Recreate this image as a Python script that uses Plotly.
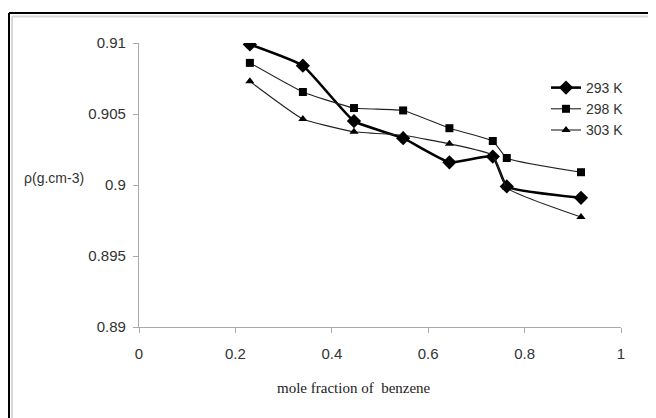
import plotly.graph_objects as go

# Data
mole_fraction = [0.230, 0.340, 0.446, 0.548, 0.644, 0.734, 0.763, 0.917]
rho_293 = [0.9099, 0.9084, 0.9045, 0.9033, 0.9016, 0.9020, 0.8999, 0.8991]
rho_298 = [0.9086, 0.90655, 0.90542, 0.90525, 0.9040, 0.9031, 0.9019, 0.9009]
rho_303 = [0.9073, 0.90465, 0.90375, 0.9035, 0.9029, 0.9021, 0.8998, 0.89775]
series_names = ["293 K", "298 K", "303 K"]
x_ticks = [0, 0.2, 0.4, 0.6, 0.8, 1]
x_tick_labels = ["0", "0.2", "0.4", "0.6", "0.8", "1"]
y_ticks = [0.89, 0.895, 0.9, 0.905, 0.91]
y_tick_labels = ["0.89", "0.895", "0.9", "0.905", "0.91"]

# page body has an 8px margin: figure origin sits at window (8, 8)
OFF = 8
W, H = 656, 418
ML, MT = 131, 35
PW, PH = 482, 284
MR, MB = W - ML - PW, H - MT - PH

def px(x):  # window pixel -> paper x
    return (x - OFF - ML) / PW

def py(y):  # window pixel -> paper y
    return (MT + PH - (y - OFF)) / PH

fig = go.Figure()
fig.add_trace(go.Scatter(
    x=mole_fraction, y=rho_293, name=series_names[0], mode="lines+markers",
    line=dict(color="#000000", width=2.6, shape="spline", smoothing=0.4),
    marker=dict(symbol="diamond", size=11, color="#000000")))
fig.add_trace(go.Scatter(
    x=mole_fraction, y=rho_298, name=series_names[1], mode="lines+markers",
    line=dict(color="#222222", width=1.1, shape="spline", smoothing=0.4),
    marker=dict(symbol="square", size=8, color="#000000")))
fig.add_trace(go.Scatter(
    x=mole_fraction, y=rho_303, name=series_names[2], mode="lines+markers",
    line=dict(color="#222222", width=1.1, shape="spline", smoothing=0.4),
    marker=dict(symbol="triangle-up", size=8, color="#000000")))

axis_font = dict(family="Liberation Sans, Arial, sans-serif", size=15, color="#333333")

fig.update_layout(
    width=W, height=H,
    margin=dict(l=ML, r=MR, t=MT, b=MB),
    paper_bgcolor="white", plot_bgcolor="white",
    showlegend=True,
    legend=dict(x=px(546), y=py(72), xanchor="left", yanchor="top",
                font=dict(family="Liberation Sans, Arial, sans-serif", size=14, color="#333333"),
                bgcolor="rgba(0,0,0,0)", tracegroupgap=0, itemwidth=30),
    xaxis=dict(range=[0, 1], tickvals=x_ticks, ticktext=x_tick_labels,
               showgrid=False, zeroline=False, showline=True, linecolor="#aaaaaa", linewidth=1.2,
               ticks="outside", ticklen=5, tickcolor="#aaaaaa", tickfont=axis_font,
               ticklabelstandoff=8),
    yaxis=dict(range=[0.89, 0.91], tickvals=y_ticks, ticktext=y_tick_labels,
               showgrid=False, zeroline=False, showline=True, linecolor="#aaaaaa", linewidth=1.2,
               ticks="outside", ticklen=5, tickcolor="#aaaaaa", tickfont=axis_font,
               ticklabelstandoff=4),
    annotations=[
        dict(text="ρ(g.cm-3)", xref="paper", yref="paper", x=px(22), y=py(178),
             xanchor="left", yanchor="middle", showarrow=False,
             font=dict(family="Liberation Sans, Arial, sans-serif", size=14, color="#333333")),
        dict(text="mole fraction of  benzene", xref="paper", yref="paper", x=px(354), y=py(388),
             xanchor="center", yanchor="middle", showarrow=False,
             font=dict(family="Liberation Serif, Times New Roman, serif", size=15, color="#222222")),
    ],
    shapes=[
        dict(type="line", xref="paper", yref="paper", x0=px(9), x1=px(700), y0=py(13), y1=py(13),
             line=dict(color="#000000", width=2)),
        dict(type="line", xref="paper", yref="paper", x0=px(9), x1=px(9), y0=py(13), y1=py(460),
             line=dict(color="#000000", width=2)),
        dict(type="line", xref="paper", yref="paper", x0=px(12), x1=px(700), y0=py(16.5), y1=py(16.5),
             line=dict(color="#d8d8d8", width=2)),
        dict(type="line", xref="paper", yref="paper", x0=px(12), x1=px(12), y0=py(16.5), y1=py(460),
             line=dict(color="#d8d8d8", width=2)),
    ],
)

fig.write_html("out.html")
